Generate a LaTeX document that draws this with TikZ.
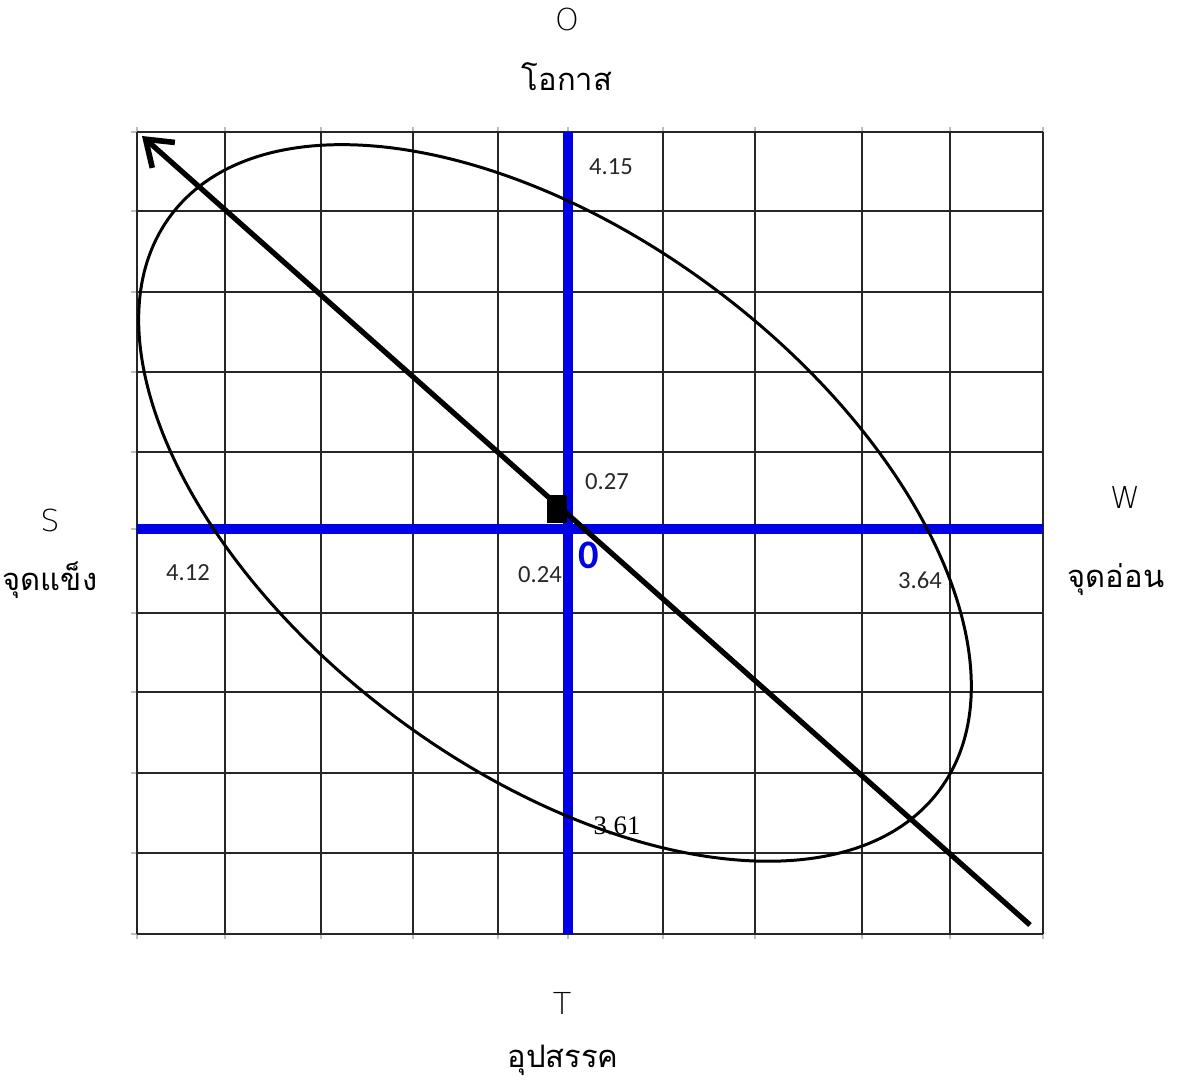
\documentclass[tikz,border=0pt]{standalone}
\usepackage{fontspec}
\setmainfont{Carlito}
\newfontfamily\thaifont[Script=Thai]{Loma}
\newfontfamily\thinfont{DejaVu Sans ExtraLight}
\newfontfamily\serifnum{Liberation Serif}
\usetikzlibrary{arrows.meta}
\definecolor{axisblue}{RGB}{0,0,230}
\definecolor{numgray}{RGB}{40,40,40}
\tikzset{
  gridline/.style={black!85, line width=0.55pt},
  tickline/.style={black!25, line width=0.4pt},
  axisline/.style={axisblue, line width=2.9pt},
  ovalline/.style={black, line width=0.85pt},
  diagline/.style={black, line width=1.5pt, -{Straight Barb[length=0.24cm, width=0.34cm, line width=1.6pt]}},
  numlabel/.style={font=\fontsize{7pt}{8pt}\selectfont, text=numgray, inner sep=0pt},
  swotlabel/.style={font=\thinfont\fontsize{8.6pt}{10pt}\selectfont, inner sep=0pt},
  thailabel/.style={font=\thaifont\fontsize{8.8pt}{10pt}\selectfont, inner sep=0pt},
}
\begin{document}
\begin{tikzpicture}[x=0.01cm, y=-0.01cm]
\path[use as bounding box] (0,0) rectangle (1177,1086);
% ticks
\foreach \gx in {137,225,321,413,498,568,663,755,862,950,1043} {
  \draw[tickline] (\gx,127) -- (\gx,132);
  \draw[tickline] (\gx,934) -- (\gx,939);
}
\foreach \gy in {132,211,292,372,452,529,613,692,773,853,934} {
  \draw[tickline] (131,\gy) -- (137,\gy);
}
% grid
\foreach \gx in {137,225,321,413,498,568,663,755,862,950,1043} {
  \draw[gridline] (\gx,132) -- (\gx,934);
}
\foreach \gy in {132,211,292,372,452,529,613,692,773,853,934} {
  \draw[gridline] (137,\gy) -- (1043,\gy);
}
% blue axes
\coordinate (vt) at (568,132);
\coordinate (vb) at (568,934);
\coordinate (hl) at (137,529);
\coordinate (hr) at (1043,529);
\draw[axisline] (vt) -- (vb);
\draw[axisline] (hl) -- (hr);
% ellipse
\coordinate (ec) at (555,503);
\draw[ovalline, rotate around={-36.8:(ec)}] (ec) ellipse [x radius=4.796cm, y radius=2.669cm];
% diagonal arrow
\coordinate (arrS) at (1030,925);
\coordinate (arrE) at (142,136);
\draw[diagline] (arrS) -- (arrE);
% square
\node (sq) [fill=black, minimum width=0.2cm, minimum height=0.28cm, inner sep=0pt] at (557,509) {};
% numbers
\node (n415) [numlabel] at (611,167) {4.15};
\node (n027) [numlabel] at (607,482) {0.27};
\node (n024) [numlabel] at (540,575) {0.24};
\node (n412) [numlabel] at (188,573) {4.12};
\node (n364) [numlabel] at (920,580) {3.64};
\node (n361) [numlabel, font=\serifnum\fontsize{7.6pt}{9pt}\selectfont, text=black] at (617,826) {3.61};
\node (zero) [inner sep=0pt, text=axisblue, font=\bfseries\fontsize{11.5pt}{13pt}\selectfont] at (589,555) {0};
% SWOT labels
\node (O) [swotlabel] at (567,20) {O};
\node (Oth) [thailabel] at (567,77) {โอกาส};
\node (S) [swotlabel] at (50,520) {S};
\node (Sth) [thailabel] at (50,580) {จุดแข็ง};
\node (W) [swotlabel] at (1125,497) {W};
\node (Wth) [thailabel] at (1116,580) {จุดอ่อน};
\node (T) [swotlabel] at (562,1003) {T};
\node (Tth) [thailabel] at (563,1060) {อุปสรรค};
\end{tikzpicture}
\end{document}
